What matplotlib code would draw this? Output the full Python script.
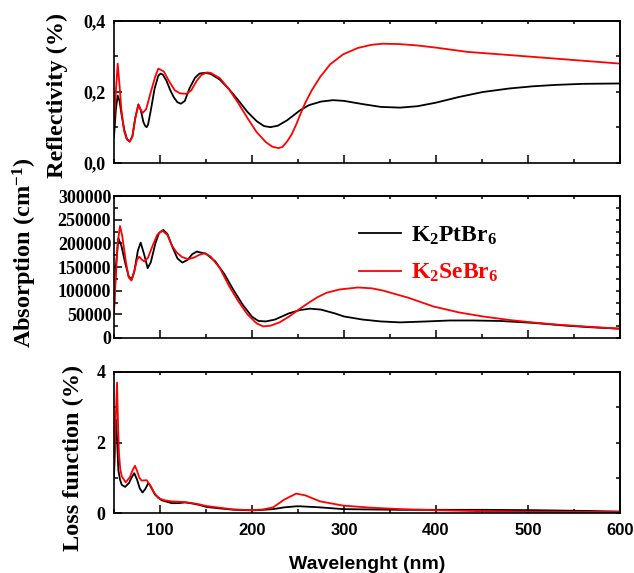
import matplotlib
matplotlib.use("Agg")
import matplotlib.pyplot as plt
from matplotlib.ticker import MultipleLocator, FuncFormatter, FixedLocator, NullFormatter

plt.rcParams["mathtext.fontset"] = "custom"
plt.rcParams["mathtext.rm"] = "Liberation Serif:bold"
plt.rcParams["mathtext.bf"] = "Liberation Serif:bold"
plt.rcParams["mathtext.it"] = "Liberation Serif:bold"
plt.rcParams["mathtext.default"] = "rm"

SERIF = "Liberation Serif"
SANS = "Liberation Sans"

# ---- Reflectivity ----
refl_pt_nm = [50, 52, 54, 56, 58, 61, 64, 67, 70, 73, 76.5, 79, 82, 84, 85.5, 87, 90,
              94, 98, 100.5, 103, 107, 111, 115, 119, 122.8, 127, 132, 138, 143, 149,
              155, 165, 175, 185, 195, 205, 213, 220, 228, 238, 252, 262, 275, 288,
              300, 320, 340, 361, 380, 400, 425, 451, 480, 505, 530, 560, 600]
refl_pt = [0.073, 0.15, 0.19, 0.175, 0.14, 0.095, 0.068, 0.060, 0.075, 0.125, 0.165,
           0.15, 0.115, 0.104, 0.101, 0.108, 0.148, 0.208, 0.245, 0.252, 0.249,
           0.232, 0.206, 0.185, 0.171, 0.167, 0.175, 0.21, 0.24, 0.252, 0.254,
           0.251, 0.235, 0.208, 0.177, 0.144, 0.118, 0.104, 0.101, 0.105, 0.12,
           0.148, 0.163, 0.173, 0.177, 0.175, 0.166, 0.158, 0.156, 0.16, 0.17,
           0.186, 0.2, 0.21, 0.216, 0.22, 0.223, 0.224]

refl_se_nm = [50, 52, 54, 56, 58, 61, 64, 67.4, 70, 73, 76.5, 79, 81.2, 85, 90, 95,
              98.2, 104, 110, 116, 122, 129, 134, 140, 145, 150.7, 155, 165, 175, 185,
              195, 205, 215, 222, 228.6, 233, 238, 243, 248, 252, 258, 265, 274, 285,
              299, 315, 330, 342, 360, 380, 400, 434, 470, 505, 550, 600]
refl_se = [0.111, 0.2, 0.28, 0.22, 0.15, 0.09, 0.066, 0.061, 0.075, 0.125, 0.164,
           0.15, 0.141, 0.152, 0.2, 0.245, 0.266, 0.258, 0.23, 0.205, 0.196, 0.195,
           0.205, 0.232, 0.248, 0.255, 0.254, 0.239, 0.208, 0.169, 0.127, 0.087,
           0.059, 0.046, 0.042, 0.045, 0.06, 0.08, 0.108, 0.134, 0.17, 0.205, 0.242,
           0.278, 0.306, 0.324, 0.333, 0.336, 0.335, 0.331, 0.325, 0.313, 0.306,
           0.299, 0.29, 0.28]

# ---- Absorption (cm^-1) ----
abs_pt_nm = [50, 52, 54.7, 58, 62, 66, 69.2, 72, 76, 79, 83, 86.6, 90, 95, 99, 103.6,
             108, 114, 119, 124.3, 130, 135, 140, 150, 160, 170, 180, 190, 200, 207,
             215, 225, 240, 252, 263, 275, 290, 300, 320, 340, 361, 390, 415, 440,
             470, 505, 542, 570, 600]
abs_pt = [60000, 150000, 210800, 195000, 160000, 130000, 124400, 140000, 185000,
          201500, 175000, 147600, 160000, 200000, 222000, 228300, 220000, 190000,
          168000, 159400, 165000, 177000, 182600, 178000, 162000, 135000, 101000,
          70000, 45000, 36000, 35000, 39000, 52000, 59000, 62000, 60000, 52000,
          45500, 39000, 35000, 33000, 35000, 37000, 37000, 36000, 32000, 26000,
          22500, 19600]

abs_se_nm = [50, 52, 54, 56.5, 59, 63, 66, 69, 72, 75, 77.5, 80, 83, 87, 92, 97,
             102.5, 108, 113, 118, 124, 130.8, 137, 143, 149, 155, 165, 175, 185,
             195, 205, 212, 220, 230, 240, 252, 262, 271, 281, 295, 315, 330, 342,
             370, 397, 425, 451, 480, 505, 530, 560, 600]
abs_se = [55000, 130000, 200000, 236700, 215000, 160000, 128000, 121400, 140000,
          165000, 172000, 166000, 161500, 170000, 195000, 218000, 226800, 218000,
          195000, 181000, 171000, 166500, 170000, 176000, 179000, 172000, 148000,
          110000, 78000, 50000, 31000, 24500, 26000, 33000, 45000, 61700, 75000,
          86000, 95500, 102500, 106700, 105000, 100400, 85000, 66700, 54000, 45500,
          38000, 32900, 28500, 24500, 19600]

# ---- Loss function (%) ----
loss_pt_nm = [50, 51, 52.2, 53.5, 54.7, 56.5, 58.4, 62, 66.3, 69, 72, 75, 78, 81,
              84, 87.3, 90, 94.6, 101.8, 112.7, 120, 127.2, 135, 141.7, 150.8, 165,
              180, 200, 212, 223, 235, 248, 252, 274, 299, 330, 361, 400, 451, 505,
              560, 600]
loss_pt = [1.0, 1.9, 2.64, 2.0, 1.22, 0.95, 0.8, 0.74, 0.85, 1.0, 1.13, 0.95, 0.7,
           0.58, 0.68, 0.85, 0.75, 0.52, 0.36, 0.28, 0.28, 0.3, 0.27, 0.235, 0.17,
           0.13, 0.093, 0.075, 0.09, 0.11, 0.16, 0.19, 0.19, 0.16, 0.11, 0.1, 0.09,
           0.09, 0.09, 0.08, 0.06, 0.04]

loss_se_nm = [50, 51.5, 53.3, 54.3, 55.4, 56.8, 58.4, 62.7, 67.4, 70, 72.8, 75, 77.5,
              80, 85.5, 89, 93, 98.2, 105, 112.7, 120, 127, 135, 141.7, 150, 165,
              180, 200, 212, 223, 235, 248, 258, 274, 299, 330, 361, 400, 451, 505,
              550, 600]
loss_se = [1.2, 2.4, 3.7, 2.6, 1.7, 1.25, 1.04, 0.87, 1.02, 1.2, 1.34, 1.2, 1.0,
           0.92, 0.93, 0.8, 0.6, 0.42, 0.36, 0.33, 0.32, 0.31, 0.28, 0.25, 0.2, 0.15,
           0.1, 0.08, 0.1, 0.16, 0.38, 0.55, 0.5, 0.33, 0.21, 0.15, 0.11, 0.08,
           0.05, 0.035, 0.03, 0.03]

labels = ["K$_2$PtBr$_6$", "K$_2$SeBr$_6$"]
colors = ["black", "#ff0000"]

x_major = [100, 200, 300, 400, 500, 600]
x_minor = [50, 150, 250, 350, 450, 550]

W, H = 634, 573
fig = plt.figure(figsize=(W / 100, H / 100), dpi=100)


def px_axes(top, bottom, left=114, right=620):
    return fig.add_axes([left / W, 1 - bottom / H, (right - left) / W, (bottom - top) / H])


ax1 = px_axes(21, 163)
ax2 = px_axes(196, 338)
ax3 = px_axes(372, 513)

series = [
    (ax1, (refl_pt_nm, refl_pt), (refl_se_nm, refl_se)),
    (ax2, (abs_pt_nm, abs_pt), (abs_se_nm, abs_se)),
    (ax3, (loss_pt_nm, loss_pt), (loss_se_nm, loss_se)),
]
for ax, s_pt, s_se in series:
    ax.plot(*s_pt, color=colors[0], lw=1.3, label=labels[0])
    ax.plot(*s_se, color=colors[1], lw=1.3, label=labels[1])
    ax.set_xlim(50, 600)
    ax.xaxis.set_major_locator(FixedLocator(x_major))
    ax.xaxis.set_minor_locator(FixedLocator(x_minor))
    for sp in ax.spines.values():
        sp.set_linewidth(1.2)
    ax.tick_params(which="both", direction="in", width=1.1)
    ax.tick_params(which="major", length=6)
    ax.tick_params(which="minor", length=3)

# Reflectivity axis
ax1.set_ylim(0, 0.4)
ax1.yaxis.set_major_locator(FixedLocator([0, 0.2, 0.4]))
ax1.yaxis.set_minor_locator(FixedLocator([0.1, 0.3]))
ax1.yaxis.set_major_formatter(FuncFormatter(lambda v, p: f"{v:.1f}".replace(".", ",")))
ax1.tick_params(axis="x", labelbottom=False)
ax1.tick_params(axis="y", labelsize=13, pad=6)

# Absorption axis
ax2.set_ylim(0, 300000)
ax2.yaxis.set_major_locator(MultipleLocator(50000))
ax2.yaxis.set_minor_locator(MultipleLocator(25000))
ax2.yaxis.set_major_formatter(FuncFormatter(lambda v, p: f"{int(round(v))}"))
ax2.tick_params(axis="x", labelbottom=False)
ax2.tick_params(axis="y", labelsize=13, pad=2)

# Loss function axis
ax3.set_ylim(0, 4)
ax3.yaxis.set_major_locator(FixedLocator([0, 2, 4]))
ax3.yaxis.set_minor_locator(FixedLocator([1, 3]))
ax3.tick_params(axis="y", labelsize=13, pad=6)
ax3.tick_params(axis="x", labelsize=12, pad=7)

# short inward ticks on the top and right frames
for ax in (ax1, ax2, ax3):
    top = ax.secondary_xaxis("top")
    top.xaxis.set_major_locator(FixedLocator(x_major + x_minor))
    top.xaxis.set_major_formatter(NullFormatter())
    top.tick_params(direction="in", length=2.5, width=1.1)
    top.spines["top"].set_linewidth(1.2)
    right = ax.secondary_yaxis("right")
    right.yaxis.set_major_locator(FixedLocator(
        list(ax.yaxis.get_majorticklocs()) + list(ax.yaxis.get_minorticklocs())))
    right.yaxis.set_major_formatter(NullFormatter())
    right.tick_params(direction="in", length=3, width=1.1)
    right.spines["right"].set_linewidth(1.2)

for ax in (ax1, ax2, ax3):
    for t in ax.get_yticklabels():
        t.set_fontfamily(SERIF)
        t.set_fontweight("bold")
for t in ax3.get_xticklabels():
    t.set_fontfamily(SANS)
    t.set_fontweight("bold")

ax3.set_xlabel("Wavelenght (nm)", fontfamily=SANS, fontweight="bold", fontsize=14, labelpad=13)

ylab = dict(rotation=90, ha="center", va="center", fontfamily=SERIF,
            fontweight="bold", fontsize=17.5)
fig.text(57 / W, 1 - 95 / H, "Reflectivity (%)", **ylab)
fig.text(25 / W, 1 - 253 / H, "Absorption (cm$^{-1}$)", **ylab)
fig.text(73 / W, 1 - 458 / H, "Loss function (%)", **ylab)

leg = ax2.legend(loc="upper left", bbox_to_anchor=(0.484, 0.80), frameon=False,
                 prop={"family": SERIF, "weight": "bold", "size": 17},
                 handlelength=1.8, handletextpad=0.4, labelspacing=0.65,
                 borderpad=0, borderaxespad=0, labelcolor="linecolor")

fig.savefig("out.png", dpi=100)
